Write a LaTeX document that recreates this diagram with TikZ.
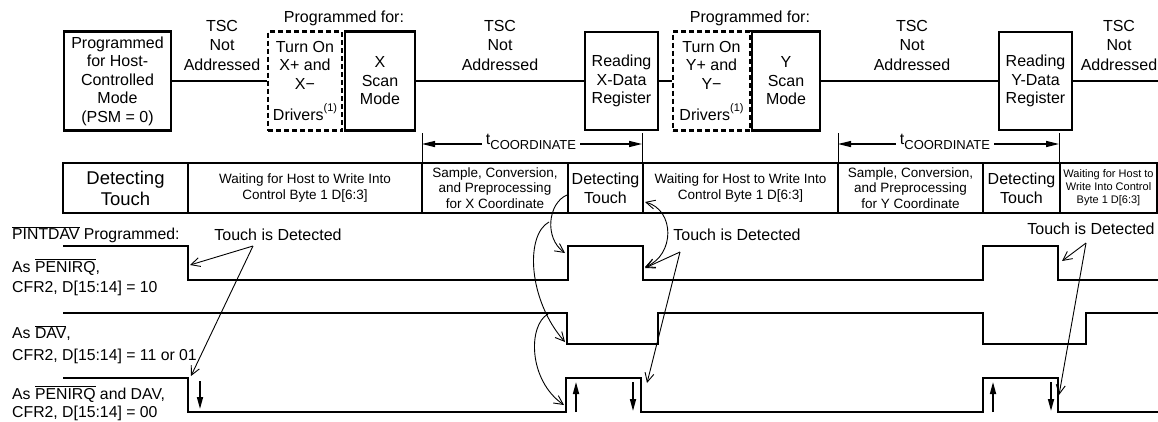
\documentclass[tikz,border=0pt]{standalone}
\usepackage{fontspec}
\setmainfont{Liberation Sans}
\usetikzlibrary{arrows.meta}
\newcommand\ovl[1]{$\overline{\mbox{#1}}$}
\tikzset{
  sbox/.style={draw, line width=2.6pt, inner sep=0pt, align=center, font=\fontsize{16}{18.5}\selectfont},
  dbox/.style={sbox, dash pattern=on 5pt off 3pt},
  lbl/.style={align=center, inner sep=0pt, font=\fontsize{16}{19.5}\selectfont},
  link/.style={line width=2.2pt},
  cell/.style={draw, line width=2.8pt, inner sep=0pt, align=center, minimum height=50pt},
  bigt/.style={font=\fontsize{18.5}{21}\selectfont},
  medt/.style={font=\fontsize{16}{19}\selectfont},
  midt/.style={font=\fontsize{13.5}{15.5}\selectfont},
  smallt/.style={font=\fontsize{11}{13}\selectfont},
  sig/.style={line width=2.4pt, line join=miter},
  note/.style={line width=0.9pt, -{Straight Barb[length=9pt,width=9pt]}},
  notetext/.style={inner sep=0pt, font=\fontsize{16}{18}\selectfont},
  both/.style={line width=0.9pt, {Straight Barb[length=9pt,width=9pt]}-{Straight Barb[length=9pt,width=9pt]}},
  pulse/.style={line width=1.6pt, -{Triangle[length=12pt,width=6pt]}},
  tick/.style={line width=0.9pt},
  span/.style={line width=1.3pt, -{Triangle[length=13pt,width=6pt]}, shorten <=4pt},
  side/.style={anchor=base west, inner sep=0pt, font=\fontsize{15.8}{18}\selectfont},
}
\begin{document}
\begin{tikzpicture}[x=1pt,y=-1pt]
\useasboundingbox (0,0) rectangle (1158,421);

% ---------- top row ----------
\node[sbox, minimum width=107pt, minimum height=99pt] (host) at (117.5,81)
  {Programmed\\for Host-\\Controlled\\Mode\\(PSM = 0)};
\node[dbox, minimum width=74pt, minimum height=99pt] (xdrv) at (305,81)
  {Turn On\\X+ and\\X−\\[13pt]Drivers\raisebox{9pt}{\fontsize{11}{11}\selectfont(1)}};
\node[sbox, minimum width=70pt, minimum height=99pt] (xscan) at (380,81) {X\\Scan\\Mode};
\node[sbox, minimum width=73pt, minimum height=98pt] (xreg) at (621.5,81) {Reading\\X-Data\\Register};
\node[dbox, minimum width=77pt, minimum height=99pt] (ydrv) at (711.5,81)
  {Turn On\\Y+ and\\Y−\\[13pt]Drivers\raisebox{9pt}{\fontsize{11}{11}\selectfont(1)}};
\node[sbox, minimum width=68pt, minimum height=99pt] (yscan) at (786,81) {Y\\Scan\\Mode};
\node[sbox, minimum width=73pt, minimum height=98pt] (yreg) at (1035.5,81) {Reading\\Y-Data\\Register};
\coordinate (rend) at (1162,81);

\draw[link] (host.east) -- (xdrv.west);
\draw[link] (xscan.east) -- (xreg.west);
\draw[link] (xreg.east) -- (ydrv.west);
\draw[link] (yscan.east) -- (yreg.west);
\draw[link] (yreg.east) -- (rend);

\node[lbl] (tsc1) at (222,45) {TSC\\Not\\Addressed};
\node[lbl] (tsc2) at (500,45) {TSC\\Not\\Addressed};
\node[lbl] (tsc3) at (912,45) {TSC\\Not\\Addressed};
\node[lbl] (tsc4) at (1119,45) {TSC\\Not\\Addressed};
\node[lbl] (pf1) at (344,18) {Programmed for:};
\node[lbl] (pf2) at (750,18) {Programmed for:};

% ---------- t_COORDINATE ----------
\coordinate (ka1) at (422,133); \coordinate (kb1) at (422,163);
\coordinate (ka2) at (642,133); \coordinate (kb2) at (642,163);
\coordinate (ka3) at (838,133); \coordinate (kb3) at (838,163);
\coordinate (ka4) at (1059,133); \coordinate (kb4) at (1059,163);
\draw[tick] (ka1) -- (kb1); \draw[tick] (ka2) -- (kb2);
\draw[tick] (ka3) -- (kb3); \draw[tick] (ka4) -- (kb4);
\coordinate (pa1) at (422,144); \coordinate (pb1) at (642,144);
\coordinate (pa2) at (838,144); \coordinate (pb2) at (1059,144);
\node[inner sep=0pt] (tc1) at (531,142) {{\fontsize{16}{16}\selectfont t}\raisebox{-5pt}{\fontsize{13}{13}\selectfont COORDINATE}};
\node[inner sep=0pt] (tc2) at (945,142) {{\fontsize{16}{16}\selectfont t}\raisebox{-5pt}{\fontsize{13}{13}\selectfont COORDINATE}};
\draw[span] (tc1.west |- pa1) -- (pa1);
\draw[span] (tc1.east |- pb1) -- (pb1);
\draw[span] (tc2.west |- pa2) -- (pa2);
\draw[span] (tc2.east |- pb2) -- (pb2);

% ---------- state table ----------
\node[cell, bigt, minimum width=125pt] (c1) at (125.5,188) {Detecting\\Touch};
\node[cell, midt, minimum width=234pt] (c2) at (305,188) {Waiting for Host to Write Into\\Control Byte 1 D[6:3]};
\node[cell, midt, minimum width=146pt] (c3) at (495,188) {Sample, Conversion,\\and Preprocessing\\for X Coordinate};
\node[cell, medt, minimum width=75pt] (c4) at (605.5,188) {Detecting\\Touch};
\node[cell, midt, minimum width=195pt] (c5) at (740.5,188) {Waiting for Host to Write Into\\Control Byte 1 D[6:3]};
\node[cell, midt, minimum width=145pt] (c6) at (910.5,188) {Sample, Conversion,\\and Preprocessing\\for Y Coordinate};
\node[cell, medt, minimum width=77pt] (c7) at (1021.5,188) {Detecting\\Touch};
\node[cell, smallt, minimum width=97pt] (c8) at (1108.5,188) {Waiting for Host to\\Write Into Control\\Byte 1 D[6:3]};

% ---------- side labels ----------
\node[side] (l0) at (12,239.5) {\ovl{PINTDAV} Programmed:};
\node[side] (l1) at (12,272) {As \ovl{PENIRQ},};
\node[side] (l1b) at (12,292.5) {CFR2, D[15:14] = 10};
\node[side] (l2) at (12,338.5) {As \ovl{DAV},};
\node[side] (l2b) at (12,360.5) {CFR2, D[15:14] = 11 or 01};
\node[side] (l3) at (12,399) {As \ovl{PENIRQ} and DAV,};
\node[side] (l3b) at (12,417) {CFR2, D[15:14] = 00};

% ---------- waveforms ----------
\draw[sig] (63,246) -- (188,246) -- (188,280) -- (568,280) -- (568,246) -- (643,246) -- (643,280)
  -- (983,280) -- (983,246) -- (1058,246) -- (1058,280) -- (1162,280);
\draw[sig] (63,313) -- (567,313) -- (567,344) -- (658,344) -- (658,313) -- (983,313) -- (983,344)
  -- (1086,344) -- (1086,313) -- (1162,313);
\draw[sig] (63,378) -- (188,378) -- (188,412) -- (566,412) -- (566,378) -- (641,378) -- (641,412)
  -- (983,412) -- (983,378) -- (1058,378) -- (1058,412) -- (1162,412);

% edge arrows
\coordinate (d1a) at (200,381); \coordinate (d1b) at (200,409);
\coordinate (u1a) at (576,412); \coordinate (u1b) at (576,382);
\coordinate (d2a) at (633,382); \coordinate (d2b) at (633,411);
\coordinate (u2a) at (993,412); \coordinate (u2b) at (993,382);
\coordinate (d3a) at (1051,382); \coordinate (d3b) at (1051,411);
\draw[pulse] (d1a) -- (d1b);
\draw[pulse] (u1a) -- (u1b);
\draw[pulse] (d2a) -- (d2b);
\draw[pulse] (u2a) -- (u2b);
\draw[pulse] (d3a) -- (d3b);

% ---------- touch annotations ----------
\node[notetext] (td1) at (278,235) {Touch is Detected};
\node[notetext] (td2) at (737,235) {Touch is Detected};
\node[notetext] (td3) at (1091,229) {Touch is Detected};
\coordinate (ap1) at (253,246); \coordinate (t1a) at (190,265); \coordinate (t1b) at (191,376);
\coordinate (ap2) at (680,252); \coordinate (t2a) at (645,268); \coordinate (t2b) at (647,383);
\coordinate (ap3) at (1086,243); \coordinate (t3a) at (1062,261); \coordinate (t3b) at (1059,395);
\draw[note] (ap1) -- (t1a); \draw[note] (ap1) -- (t1b);
\draw[note] (ap2) -- (t2a); \draw[note] (ap2) -- (t2b);
\draw[note] (ap3) -- (t3a); \draw[note] (ap3) -- (t3b);

% curved arrows from the X sampling cell
\coordinate (sa) at (567,195); \coordinate (sb) at (549,222); \coordinate (sc) at (548,314);
\coordinate (ea) at (565,253); \coordinate (eb) at (565,342); \coordinate (ec) at (564,405);
\draw[note] (sa) .. controls (548,203) and (544,238) .. (ea);
\draw[note] (sb) .. controls (525,235) and (528,300) .. (eb);
\draw[note] (sc) .. controls (528,325) and (528,380) .. (ec);
\coordinate (ra) at (645,202); \coordinate (rb) at (645,267);
\draw[both] (ra) .. controls (675,210) and (675,255) .. (rb);
\end{tikzpicture}
\end{document}
